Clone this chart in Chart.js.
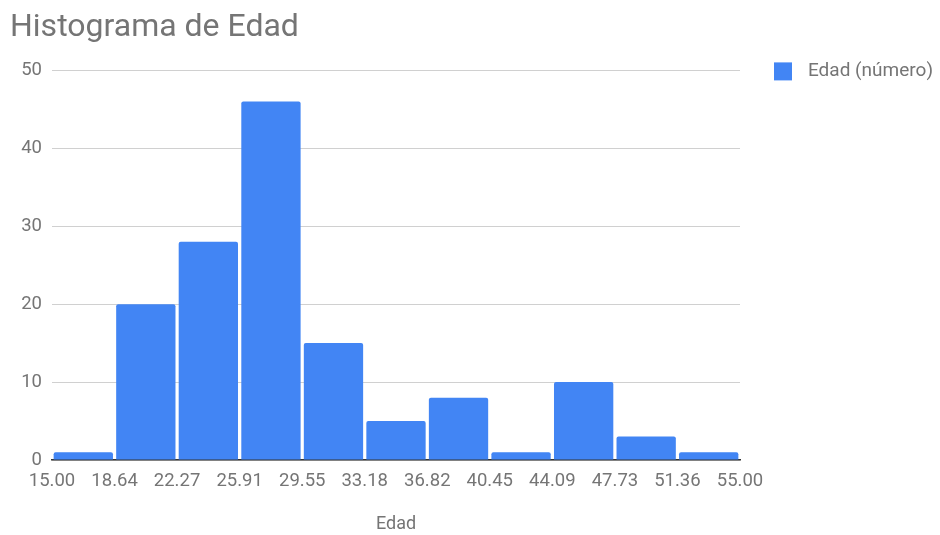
<!DOCTYPE html>
<html>
<head>
<meta charset="utf-8">
<script src="https://cdn.jsdelivr.net/npm/chart.js@4/dist/chart.umd.min.js"></script>
<style>
  html, body { margin: 0; padding: 0; background: #ffffff; }
  #wrap { width: 940px; height: 535px; }
</style>
</head>
<body>
<div id="wrap"><canvas id="hist"></canvas></div>
<script>
// Bin edges of the age histogram (also the x-axis tick labels)
const binEdges = [15.00, 18.64, 22.27, 25.91, 29.55, 33.18, 36.82, 40.45, 44.09, 47.73, 51.36, 55.00];
const tickLabels = ['15.00', '18.64', '22.27', '25.91', '29.55', '33.18', '36.82', '40.45', '44.09', '47.73', '51.36', '55.00'];
// Count of people in each bin
const counts = [1, 20, 28, 46, 15, 5, 8, 1, 10, 3, 1];
const seriesName = 'Edad (número)';

const textGrey = '#757575';
const barBlue = '#4285f4';

// Each bar sits at the middle of its bin on a linear axis
const points = counts.map((c, i) => ({ x: (binEdges[i] + binEdges[i + 1]) / 2, y: c }));

// Single-entry legend drawn to the right of the plot, level with its top gridline
const sideLegend = {
  id: 'sideLegend',
  afterDraw(chart) {
    const ctx = chart.ctx;
    const area = chart.chartArea;
    const ds = chart.data.datasets[0];
    const box = 18;
    const x = area.right + 34;
    const yMid = area.top + 1;
    ctx.save();
    ctx.fillStyle = ds.backgroundColor;
    ctx.fillRect(x, yMid - box / 2, box, box);
    ctx.fillStyle = textGrey;
    ctx.font = '19px Roboto';
    ctx.textAlign = 'left';
    ctx.textBaseline = 'middle';
    ctx.fillText(ds.label, x + box + 16, yMid);
    ctx.restore();
  }
};

new Chart(document.getElementById('hist'), {
  type: 'bar',
  data: {
    datasets: [{
      label: seriesName,
      data: points,
      backgroundColor: barBlue,
      borderWidth: 0,
      borderRadius: { topLeft: 2, topRight: 2, bottomLeft: 0, bottomRight: 0 },
      borderSkipped: 'bottom',
      barPercentage: 0.95,
      categoryPercentage: 1.0
    }]
  },
  plugins: [sideLegend],
  options: {
    responsive: true,
    maintainAspectRatio: false,
    animation: false,
    layout: { padding: { left: 10, right: 200, top: 9, bottom: 0 } },
    font: { family: 'Roboto' },
    plugins: {
      title: {
        display: true,
        text: 'Histograma de Edad',
        align: 'start',
        color: textGrey,
        font: { family: 'Roboto', size: 32, weight: 'normal' },
        padding: { top: 0, bottom: 23 }
      },
      legend: { display: false },
      tooltip: { enabled: false }
    },
    scales: {
      x: {
        type: 'linear',
        offset: false,
        min: binEdges[0],
        max: binEdges[binEdges.length - 1],
        afterBuildTicks: (scale) => { scale.ticks = binEdges.map(v => ({ value: v })); },
        afterFit: (scale) => { scale.height = 75; },
        grid: { display: false, drawTicks: false, offset: false },
        border: { display: true, color: '#333333', width: 1.5 },
        ticks: {
          autoSkip: false,
          maxRotation: 0,
          padding: 10,
          color: textGrey,
          font: { family: 'Roboto', size: 18.5 },
          callback: (value, index) => tickLabels[index]
        },
        title: {
          display: true,
          text: 'Edad',
          color: textGrey,
          font: { family: 'Roboto', size: 18 },
          padding: { top: 4, bottom: 0 }
        }
      },
      y: {
        min: 0,
        max: 50,
        afterFit: (scale) => { scale.width = 42; },
        ticks: {
          stepSize: 10,
          padding: 10,
          color: textGrey,
          font: { family: 'Roboto', size: 18.5 }
        },
        grid: { color: '#d0d0d0', drawTicks: false, lineWidth: 1 },
        border: { display: false }
      }
    }
  }
});
</script>
</body>
</html>
